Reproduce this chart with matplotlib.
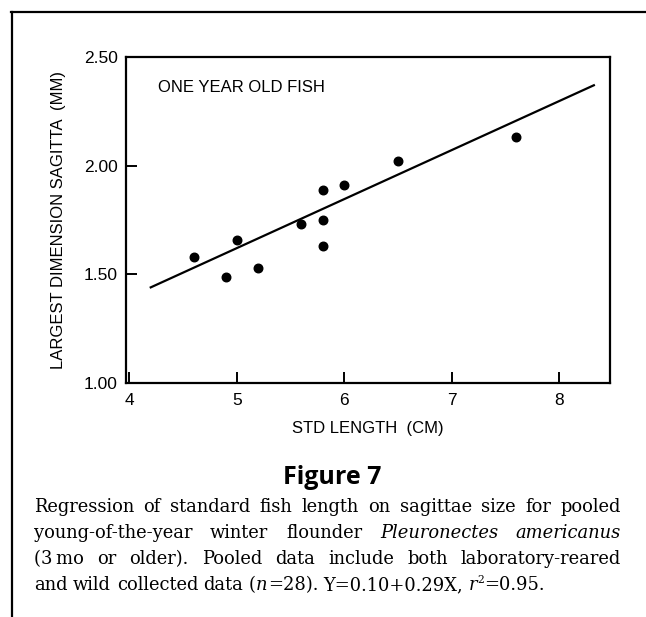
import re
import matplotlib
matplotlib.use("Agg")
import matplotlib.pyplot as plt
from matplotlib.lines import Line2D

# Точки с графика (длина рыбы, см / размер сагитты, мм)
std_length = [4.6, 4.9, 5.0, 5.2, 5.6, 5.8, 5.8, 5.8, 6.0, 6.5, 7.6]
sagitta = [1.58, 1.49, 1.66, 1.53, 1.73, 1.89, 1.75, 1.63, 1.91, 2.02, 2.13]

# Концы линии регрессии
fit_x = [4.2, 8.32]
fit_y = [1.44, 2.37]

x_ticks = [4, 5, 6, 7, 8]
y_ticks = [1.00, 1.50, 2.00, 2.50]

caption_lines = [
    "Regression of standard fish length on sagittae size for pooled",
    "young-of-the-year winter flounder _Pleuronectes_ _americanus_",
    "(3\u2009mo or older). Pooled data include both laboratory-reared",
    "and wild collected data (_n_=28). Y=0.10+0.29X, _r_^2^=0.95.",
]

W, H = 646, 617
SANS = "Liberation Sans"
SERIF = "DejaVu Serif"

fig = plt.figure(figsize=(W / 100, H / 100), dpi=100)
ax = fig.add_axes([126 / W, 1 - 383 / H, 484 / W, 326 / H])

ax.scatter(std_length, sagitta, s=38, color="black", zorder=3)
ax.plot(fit_x, fit_y, color="black", lw=1.6)

ax.set_xlim(3.97, 8.47)
ax.set_ylim(1.0, 2.5)
ax.set_xticks(x_ticks)
ax.set_xticklabels([str(v) for v in x_ticks])
ax.set_yticks(y_ticks)
ax.set_yticklabels([f"{v:.2f}" for v in y_ticks])
ax.tick_params(direction="in", length=8, width=1.4, labelsize=12.5)
ax.tick_params(axis="x", pad=7)
ax.tick_params(axis="y", pad=6)
for lab in ax.get_xticklabels() + ax.get_yticklabels():
    lab.set_family(SANS)
for sp in ax.spines.values():
    sp.set_linewidth(1.6)

ax.text(158 / W, 1 - 87 / H, "ONE YEAR OLD FISH", transform=fig.transFigure,
        family=SANS, fontsize=12, va="center", ha="left")
fig.text(368 / W, 1 - 429 / H, "STD LENGTH  (CM)", family=SANS, fontsize=12,
         ha="center", va="center")
fig.text(58 / W, 1 - 220 / H, "LARGEST DIMENSION SAGITTA  (MM)", family=SANS,
         fontsize=12, rotation=90, ha="center", va="center")

# рамка страницы: только верх и левый край
fig.add_artist(Line2D([11 / W, 1], [1 - 12 / H, 1 - 12 / H],
                      transform=fig.transFigure, color="black", lw=1.6))
fig.add_artist(Line2D([12 / W, 12 / W], [0, 1 - 12 / H],
                      transform=fig.transFigure, color="black", lw=1.6))

fig.text(332 / W, 1 - 484 / H, "Figure 7", family="Open Sans", weight="bold",
         fontsize=18, ha="center", va="baseline")

# Подпись с выравниванием по ширине
renderer = fig.canvas.get_renderer()
cap_size = 12.9
x_left, x_right = 34, 621
baselines = [512, 538, 564, 590]


def make_segments(word):
    segs = []
    for part in re.split(r"(_[^_]+_|\^[^^]+\^)", word):
        if not part:
            continue
        st = dict(family=SERIF, fontsize=cap_size, va="baseline", ha="left")
        rise = 0
        if part.startswith("_"):
            part = part[1:-1]
            st["style"] = "italic"
        elif part.startswith("^"):
            part = part[1:-1]
            st["fontsize"] = cap_size * 0.6
            rise = 7
        t = fig.text(0, 0, part, **st)
        w = t.get_window_extent(renderer).width
        segs.append((t, w, rise))
    return segs


probe1 = fig.text(0, 0, "a a", family=SERIF, fontsize=cap_size)
probe2 = fig.text(0, 0, "aa", family=SERIF, fontsize=cap_size)
space_w = (probe1.get_window_extent(renderer).width
           - probe2.get_window_extent(renderer).width)
probe1.remove()
probe2.remove()

for i, line in enumerate(caption_lines):
    words = [make_segments(w) for w in line.split(" ")]
    widths = [sum(s[1] for s in w) for w in words]
    last = i == len(caption_lines) - 1
    if last:
        gap = space_w
    else:
        gap = (x_right - x_left - sum(widths)) / (len(words) - 1)
    x = x_left
    y = baselines[i]
    for w, ww in zip(words, widths):
        xs = x
        for t, sw, rise in w:
            t.set_position((xs / W, 1 - (y - rise) / H))
            xs += sw
        x += ww + gap

fig.savefig("out.png", dpi=100)
